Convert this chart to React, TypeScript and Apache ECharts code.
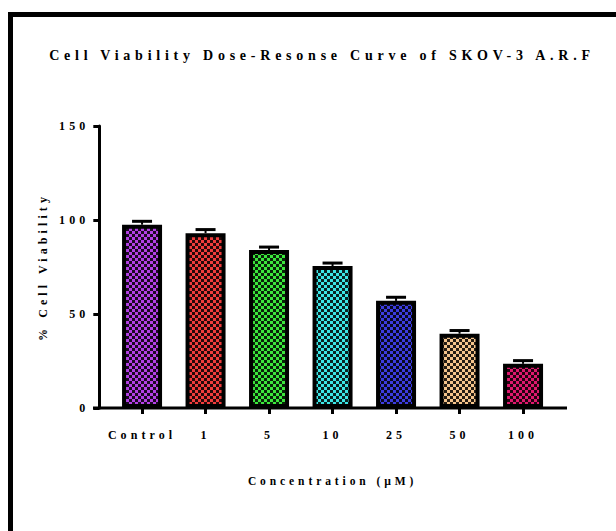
import React, { useEffect, useRef } from "react";
import * as echarts from "echarts";

const categories = ["Control", "1", "5", "10", "25", "50", "100"];
const means = [97.5, 93, 84, 75.5, 57, 39.5, 23.5];
const errors = [1.8, 1.9, 1.6, 1.6, 1.9, 1.7, 1.7];
const barColors = ["#b440e6", "#f03c3c", "#3ce63c", "#3ce6e6", "#3c3ce0", "#f5c48c", "#e0186e"];
const yTicks = [0, 50, 100, 150];

const FONT = "'Liberation Serif', 'Times New Roman', serif";

function checker(color: string) {
  const c = document.createElement("canvas");
  c.width = 6;
  c.height = 6;
  const ctx = c.getContext("2d")!;
  ctx.fillStyle = color;
  ctx.fillRect(0, 0, 6, 6);
  ctx.fillStyle = "rgba(0,0,0,0.85)";
  ctx.fillRect(0, 0, 3, 3);
  ctx.fillRect(3, 3, 3, 3);
  return c;
}

export default function App() {
  const ref = useRef<HTMLDivElement>(null);
  useEffect(() => {
    const chart = echarts.init(ref.current!, null, { renderer: "svg" });
    const txt = { fontFamily: FONT, fontWeight: "bold" as const, color: "#000" };
    chart.setOption({
      animation: false,
      backgroundColor: "#fff",
      title: {
        text: "Cell Viability Dose-Resonse Curve of SKOV-3 A.R.F",
        left: 317,
        top: 43,
        textAlign: "center",
        textStyle: { ...txt, fontSize: 14 },
      },
      graphic: [
        {
          type: "rect",
          shape: { x: 10.5, y: 14.5, width: 800, height: 800 },
          style: { fill: "none", stroke: "#000", lineWidth: 5 },
          silent: true,
        },
        {
          type: "line",
          shape: { x1: 93, y1: 408, x2: 567, y2: 408 },
          style: { stroke: "#000", lineWidth: 3 },
          silent: true,
        },
      ],
      grid: { left: 110.3, right: 61.2, top: 126, bottom: 123 },
      xAxis: {
        type: "category",
        data: categories,
        name: "Concentration (µM)",
        nameLocation: "middle",
        nameGap: 67,
        nameTextStyle: { ...txt, fontSize: 11.5 },
        axisLine: { show: false },
        axisTick: { show: true, alignWithLabel: true, length: 6, lineStyle: { color: "#000", width: 3 } },
        axisLabel: { ...txt, fontSize: 12, margin: 21 },
      },
      yAxis: {
        type: "value",
        min: 0,
        max: 150,
        interval: 50,
        offset: 11,
        name: "% Cell Viability",
        nameLocation: "middle",
        nameGap: 50,
        nameTextStyle: { ...txt, fontSize: 12 },
        axisLine: { show: true, lineStyle: { color: "#000", width: 3 } },
        axisTick: { show: true, length: 6, lineStyle: { color: "#000", width: 3 } },
        axisLabel: {
          ...txt,
          fontSize: 12,
          margin: 10,
          formatter: (v: number) => (yTicks.includes(v) ? String(v) : ""),
        },
        splitLine: { show: false },
      },
      series: [
        {
          type: "bar",
          barWidth: "63%",
          z: 3,
          data: means.map((v, i) => ({
            value: v,
            itemStyle: {
              color: { image: checker(barColors[i]), repeat: "repeat" },
              borderColor: "#000",
              borderWidth: 4,
            },
          })),
        },
        {
          type: "custom",
          z: 2,
          data: means.map((v, i) => [i, v, v + errors[i]]),
          renderItem: (params: any, api: any) => {
            const x = api.value(0);
            const lo = api.coord([x, api.value(1)]);
            const hi = api.coord([x, api.value(2)]);
            const half = 10;
            return {
              type: "group",
              children: [
                {
                  type: "line",
                  shape: { x1: lo[0], y1: lo[1], x2: hi[0], y2: hi[1] },
                  style: { stroke: "#000", lineWidth: 2 },
                },
                {
                  type: "line",
                  shape: { x1: hi[0] - half, y1: hi[1], x2: hi[0] + half, y2: hi[1] },
                  style: { stroke: "#000", lineWidth: 3 },
                },
              ],
            };
          },
        },
      ],
    });
    return () => chart.dispose();
  }, []);
  return (
    <>
      <style>{`#root svg text { letter-spacing: 0.34em; }`}</style>
      <div
        ref={ref}
        style={{ position: "fixed", left: 0, top: 0, width: 616, height: 531 }}
      />
    </>
  );
}
